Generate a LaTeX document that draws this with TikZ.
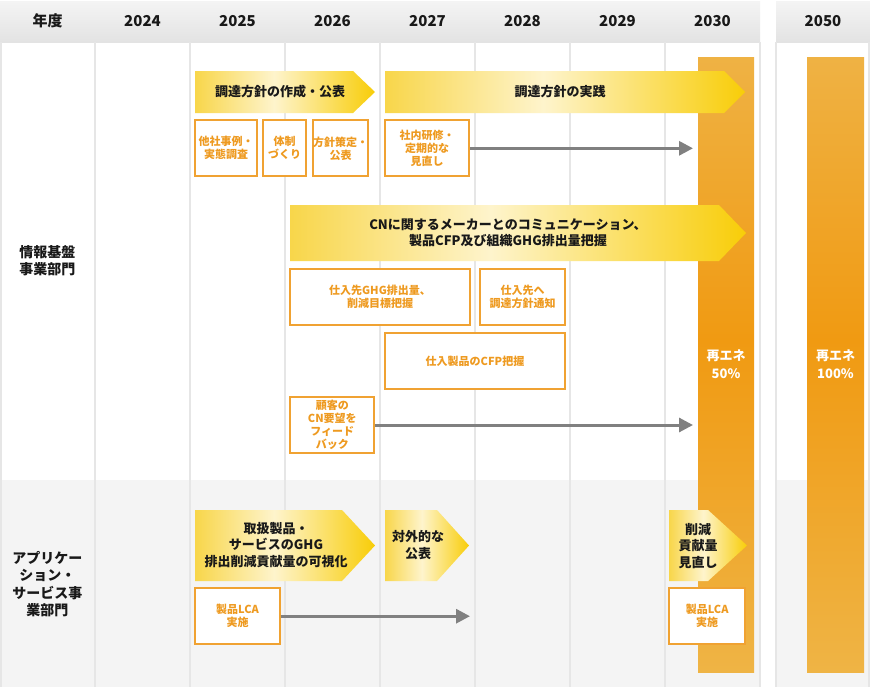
\documentclass[tikz,border=0pt]{standalone}
\usepackage{fontspec}
\setmainfont{Noto Sans CJK JP}
\usetikzlibrary{arrows.meta}
\definecolor{gridc}{HTML}{E6E6E6}
\definecolor{lowbg}{HTML}{F4F4F4}
\definecolor{hdrT}{HTML}{F4F4F4}
\definecolor{hdrB}{HTML}{E3E3E3}
\definecolor{boxc}{HTML}{F0A232}
\definecolor{boxt}{HTML}{EE9A20}
\definecolor{arrc}{HTML}{808080}
\definecolor{cL}{HTML}{F8D64A}
\definecolor{cM}{HTML}{FEF4CC}
\definecolor{cR}{HTML}{F8CD08}
\definecolor{oT}{HTML}{EFB244}
\definecolor{oM}{HTML}{F09A12}
\definecolor{oB}{HTML}{EFB445}
\pgfdeclarehorizontalshading{chevshade}{100bp}{color(0bp)=(cL); color(25bp)=(cL); color(47bp)=(cM); color(75bp)=(cR); color(100bp)=(cR)}
\pgfdeclareverticalshading{barshade}{100bp}{color(0bp)=(oB); color(25bp)=(oB); color(52bp)=(oM); color(75bp)=(oT); color(100bp)=(oT)}
\tikzset{
  obox/.style={draw=boxc, line width=2pt, fill=white, text=boxt, inner sep=0pt,
    font=\bfseries\fontsize{11}{13}\selectfont, align=center},
  chevtxt/.style={text=black!90, inner sep=0pt, align=center,
    font=\bfseries\fontsize{13}{16.5}\selectfont},
  chevfill/.style={shading=chevshade},
  barfill/.style={shading=barshade},
  barlbl/.style={text=white, inner sep=0pt, align=center,
    font=\bfseries\fontsize{13}{18}\selectfont},
  hdr/.style={text=black!90, inner sep=0pt, font=\bfseries\fontsize{15}{18}\selectfont},
  sect/.style={text=black!90, inner sep=0pt, align=center,
    font=\bfseries\fontsize{14}{17.5}\selectfont},
  garrow/.style={draw=arrc, line width=3pt, -{Triangle[length=14pt,width=14pt]}},
  gridline/.style={draw=gridc, line width=2pt}
}
\begin{document}
\begin{tikzpicture}[x=1pt,y=-1pt]
\useasboundingbox (0,0) rectangle (870,689);
\fill[white] (0,0) rectangle (870,689);
% header
\shade[top color=hdrT,bottom color=hdrB] (0,1) rectangle (760,42);
\shade[top color=hdrT,bottom color=hdrB] (776,1) rectangle (870,42);
% lower section
\fill[lowbg] (0,480) rectangle (760,687);
\fill[lowbg] (776,480) rectangle (870,687);
% grid
\foreach \x in {1,95,190,285,380,475,570,665,760,776,869}
  \draw[gridline] (\x,42) -- (\x,687);
% header texts
\node[hdr] (h0) at (47.5,21) {年度};
\node[hdr] (h1) at (142.5,21) {2024};
\node[hdr] (h2) at (237.5,21) {2025};
\node[hdr] (h3) at (332.5,21) {2026};
\node[hdr] (h4) at (427.5,21) {2027};
\node[hdr] (h5) at (522.5,21) {2028};
\node[hdr] (h6) at (617.5,21) {2029};
\node[hdr] (h7) at (712.5,21) {2030};
\node[hdr] (h8) at (823,21) {2050};
% section labels
\node[sect] (s1) at (47.5,260.5) {情報基盤\\事業部門};
\node[sect] (s2) at (47.5,584) {アプリケー\\ション・\\サービス事\\業部門};
% orange bars
\shade[barfill] (698,57) rectangle (754,672);
\shade[barfill] (807,57) rectangle (864,672);
\node[barlbl] (r50) at (726,364) {再エネ\\50\%};
\node[barlbl] (r100) at (835.5,364) {再エネ\\100\%};
% chevrons
\shade[chevfill] (195,71) -- (353,71) -- (375,92) -- (353,113) -- (195,113) -- cycle;
\node[chevtxt] (c1) at (280,92) {調達方針の作成・公表};
\shade[chevfill] (385,71) -- (724,71) -- (745,92) -- (724,113) -- (385,113) -- cycle;
\node[chevtxt] (c2) at (560,92) {調達方針の実践};
\shade[chevfill] (290,205) -- (719,205) -- (746,233) -- (719,261) -- (290,261) -- cycle;
\node[chevtxt] (c3) at (508,233) {CNに関するメーカーとのコミュニケーション、\\製品CFP及び組織GHG排出量把握};
\shade[chevfill] (195,510) -- (342,510) -- (375,545.5) -- (342,581) -- (195,581) -- cycle;
\node[chevtxt] (c4) at (276,545) {取扱製品・\\サービスのGHG\\排出削減貢献量の可視化};
\shade[chevfill] (385,510) -- (437,510) -- (469,545.5) -- (437,581) -- (385,581) -- cycle;
\node[chevtxt] (c5) at (418,545) {対外的な\\公表};
\shade[chevfill] (669,510) -- (708,510) -- (747,545.5) -- (708,581) -- (669,581) -- cycle;
\node[chevtxt] (c6) at (698,546) {削減\\貢献量\\見直し};
% boxes
\node[obox, minimum width=61.4, minimum height=56] (b1) at (226,148.3) {他社事例・\\実態調査};
\node[obox, minimum width=43.6, minimum height=56] (b2) at (284.5,148.3) {体制\\づくり};
\node[obox, minimum width=54.4, minimum height=56] (b3) at (340.5,148.3) {方針策定・\\公表};
\node[obox, minimum width=83.7, minimum height=56] (b4) at (427.2,148.3) {社内研修・\\定期的な\\見直し};
\node[obox, minimum width=179.4, minimum height=55.4] (b5) at (380,297) {仕入先GHG排出量、\\削減目標把握};
\node[obox, minimum width=84.4, minimum height=55.4] (b6) at (522.5,297) {仕入先へ\\調達方針通知};
\node[obox, minimum width=179.4, minimum height=55.7] (b7) at (475,361.2) {仕入製品のCFP把握};
\node[obox, minimum width=84, minimum height=56] (b8) at (332.3,425) {顧客の\\CN要望を\\フィード\\バック};
\node[obox, minimum width=84.4, minimum height=55.7] (b9) at (237.5,616.2) {製品LCA\\実施};
\node[obox, minimum width=75.7, minimum height=55.7] (b10) at (707.2,616.2) {製品LCA\\実施};
% arrows
\coordinate (e1) at (693,148.3);
\coordinate (e2) at (693,425);
\coordinate (e3) at (470,616.2);
\draw[garrow] (b4.east) -- (e1);
\draw[garrow] (b8.east) -- (e2);
\draw[garrow] (b9.east) -- (e3);
\end{tikzpicture}
\end{document}
